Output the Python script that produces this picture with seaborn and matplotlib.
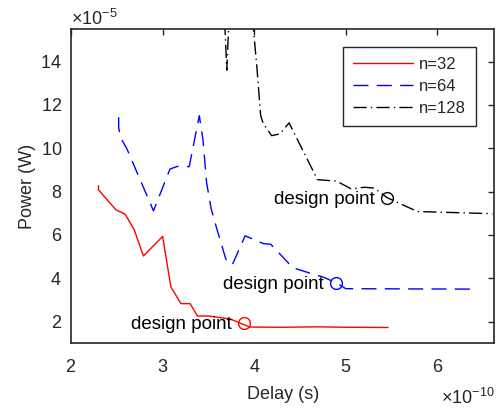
import numpy as np
import matplotlib
matplotlib.use("Agg")
import matplotlib.pyplot as plt
import seaborn as sns

# delay in units of 1e-10 s, power in units of 1e-5 W
delay_32 = [2.30, 2.30, 2.49, 2.59, 2.69, 2.79, 3.00, 3.09, 3.20, 3.30, 3.38, 3.50, 3.74,
            3.95, 4.30, 4.70, 5.00, 5.46]
power_32 = [8.27, 8.08, 7.16, 6.96, 6.24, 5.03, 5.93, 3.60, 2.83, 2.83, 2.26, 2.26, 2.12,
            1.75, 1.74, 1.76, 1.74, 1.73]

delay_64 = [2.52, 2.52, 2.54, 2.61, 2.90, 3.08, 3.16, 3.29, 3.40, 3.44, 3.48, 3.53, 3.59,
            3.69, 3.76, 3.90, 4.10, 4.18, 4.42, 4.59, 4.75, 4.89, 5.00, 6.38]
power_64 = [11.43, 10.96, 10.50, 9.97, 7.11, 9.04, 9.16, 9.15, 11.50, 10.40, 8.40, 7.20, 6.30,
            4.88, 4.62, 5.96, 5.60, 5.57, 4.49, 4.26, 4.06, 3.80, 3.52, 3.50]

delay_128 = [3.66, 3.70, 3.74, 3.97, 4.03, 4.07, 4.10, 4.19, 4.28, 4.38, 4.69, 4.90, 5.06,
             5.20, 5.31, 5.45, 5.78, 6.60]
power_128 = [17.5, 13.6, 17.5, 16.5, 13.66, 11.5, 11.12, 10.58, 10.66, 11.17, 8.55, 8.48, 8.12,
             8.20, 8.16, 7.72, 7.08, 6.98]

design_delay = [3.885, 4.89, 5.45]
design_power = [1.93, 3.80, 7.72]

labels = ["n=32", "n=64", "n=128"]
colors = ["#ff0000", "#0000ff", "#000000"]
styles = ["-", (0, (10.8, 6.0)), (0, (9.5, 3.0, 1.0, 3.0))]

sns.set_style("white")
plt.rcParams["font.family"] = ["Liberation Sans", "DejaVu Sans"]
plt.rcParams["mathtext.default"] = "regular"
dark = "#262626"

fig = plt.figure(figsize=(5.03, 4.09), dpi=100)
ax = fig.add_axes([0.1412, 0.1606, 0.8415, 0.7685])

series = [(delay_32, power_32), (delay_64, power_64), (delay_128, power_128)]
for (d, p), lab, c, ls in zip(series, labels, colors, styles):
    sns.lineplot(x=np.array(d) * 1e-10, y=np.array(p) * 1e-5, sort=False, estimator=None,
                 color=c, linestyle=ls, linewidth=1.0, label=lab, ax=ax)

for dx, py, c in zip(design_delay, design_power, colors):
    sns.lineplot(x=[dx * 1e-10], y=[py * 1e-5], marker="o", markersize=8.5,
                 markerfacecolor="none", markeredgecolor=c, markeredgewidth=1.0,
                 linestyle="none", legend=False, ax=ax)
    ax.annotate("design point", (dx * 1e-10, py * 1e-5), xytext=(-8.6, -1.2),
                textcoords="offset points", ha="right", va="center",
                fontsize=13.5, color="black")

ax.set_xlim(2e-10, 6.62e-10)
ax.set_ylim(1e-5, 15.5e-5)
ax.set_xticks(np.arange(2, 7) * 1e-10)
ax.set_yticks(np.arange(2, 15, 2) * 1e-5)
ax.ticklabel_format(axis="x", style="sci", scilimits=(-10, -10), useMathText=True)
ax.ticklabel_format(axis="y", style="sci", scilimits=(-5, -5), useMathText=True)

ax.tick_params(direction="in", length=4.5, width=1.0, color=dark, labelcolor=dark,
               labelsize=13, top=True, right=True)
ax.tick_params(axis="x", pad=11.5)
ax.tick_params(axis="y", pad=6.5)
for sp in ax.spines.values():
    sp.set_linewidth(1.2)
    sp.set_color(dark)
    sp.set_visible(True)

# x exponent sits low at the right, level with the axis label
ax.xaxis.get_offset_text().set_visible(False)
ax.text(1.0, -0.174, r"$\times10^{-10}$", transform=ax.transAxes, ha="right",
        va="center", fontsize=13, color=dark)
ax.yaxis.get_offset_text().set_fontsize(13)
ax.yaxis.get_offset_text().set_color(dark)

ax.set_xlabel("Delay (s)", fontsize=13, color=dark, labelpad=7)
ax.set_ylabel("Power (W)", fontsize=13, color=dark, labelpad=3)

leg = ax.legend(loc="upper right", fontsize=12, frameon=True, fancybox=False,
                edgecolor=dark, framealpha=1, handlelength=3.6, handletextpad=0.35,
                borderaxespad=1.1, borderpad=0.6, labelspacing=0.4)
leg.get_frame().set_linewidth(1.0)

fig.savefig("out.png", dpi=100)
